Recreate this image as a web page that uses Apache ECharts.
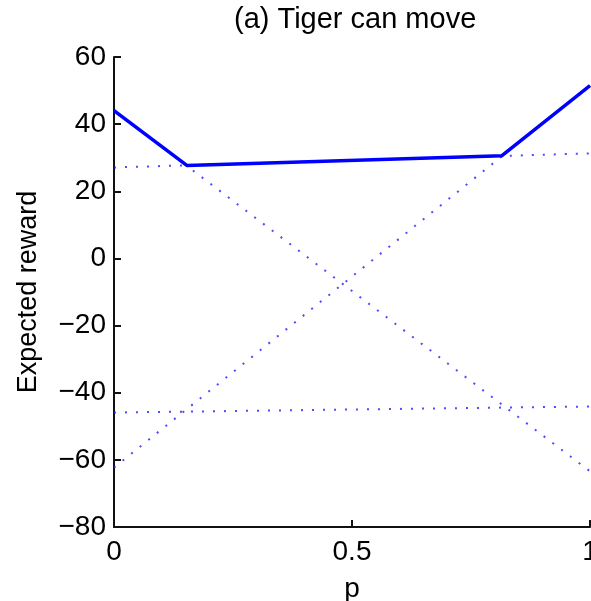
<!DOCTYPE html>
<html>
<head>
<meta charset="utf-8">
<script src="https://cdn.jsdelivr.net/npm/echarts@6/dist/echarts.min.js"></script>
<style>
  html, body { margin: 0; padding: 0; background: #fff; }
  #chart { width: 591px; height: 601px; }
</style>
</head>
<body>
<div id="chart"></div>
<script>
// belief p at the two ends of each alpha vector
const pEnds = [0, 1]
// dotted alpha vectors: value at p=0 and at p=1
const alphaAtZero = [27.1, 44, -62.3, -45.9]
const alphaAtOne = [31.3, -63.4, 51.5, -44.1]
// solid upper envelope (value function)
const envelopeP = [0, 0.153, 0.815, 1]
const envelopeValue = [44, 27.7, 30.6, 51.5]

const yTicks = [-80, -60, -40, -20, 0, 20, 40, 60]

const FONT = 'Liberation Sans, Arial, sans-serif'

// matlab prints a real minus sign
const fmt = v => String(v).replace('-', '\u2212')

const dottedSeries = alphaAtZero.map((v0, i) => ({
  type: 'line',
  data: [[pEnds[0], v0], [pEnds[1], alphaAtOne[i]]],
  showSymbol: false,
  silent: true,
  z: 2,
  lineStyle: { color: 'rgba(30, 30, 255, 0.8)', width: 2, type: [2, 9] }
}))

const envelopeSeries = {
  type: 'line',
  data: envelopeP.map((p, i) => [p, envelopeValue[i]]),
  showSymbol: false,
  silent: true,
  z: 3,
  lineStyle: { color: '#0000ff', width: 3.5 }
}

const chart = echarts.init(document.getElementById('chart'))
chart.setOption({
  animation: false,
  backgroundColor: '#fff',
  title: {
    text: '(a) Tiger can move',
    left: 229,
    top: 0,
    textStyle: { fontFamily: FONT, fontSize: 29, fontWeight: 'normal', color: '#000' }
  },
  grid: { left: 114, right: 1, top: 57, bottom: 74, containLabel: false, outerBoundsMode: 'none' },
  xAxis: {
    type: 'value',
    min: 0,
    max: 1,
    interval: 0.5,
    name: 'p',
    nameLocation: 'middle',
    nameGap: 48,
    nameTextStyle: { fontFamily: FONT, fontSize: 28, color: '#000' },
    axisLine: { show: true, onZero: false, lineStyle: { color: '#111', width: 2 } },
    axisTick: { show: true, inside: true, length: 7, lineStyle: { color: '#111', width: 2 } },
    axisLabel: { fontFamily: FONT, fontSize: 28, color: '#000', margin: 11, showMaxLabel: true },
    splitLine: { show: false }
  },
  yAxis: {
    type: 'value',
    min: yTicks[0],
    max: yTicks[yTicks.length - 1],
    interval: 20,
    name: 'Expected reward',
    nameLocation: 'middle',
    nameGap: 72,
    nameTextStyle: { fontFamily: FONT, fontSize: 27, color: '#000' },
    axisLine: { show: true, onZero: false, lineStyle: { color: '#111', width: 2 } },
    axisTick: { show: true, inside: true, length: 7, lineStyle: { color: '#111', width: 2 } },
    axisLabel: { fontFamily: FONT, fontSize: 28, color: '#000', margin: 8, formatter: fmt },
    splitLine: { show: false }
  },
  series: [...dottedSeries, envelopeSeries]
})
</script>
</body>
</html>
